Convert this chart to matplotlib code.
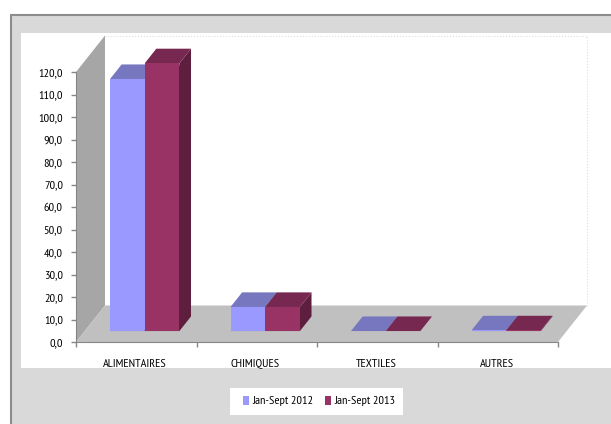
import matplotlib
matplotlib.use('Agg')
import matplotlib.pyplot as plt
from matplotlib import font_manager as fm
from matplotlib.patches import Polygon, Rectangle

categories = ['ALIMENTAIRES', 'CHIMIQUES', 'TEXTILES', 'AUTRES']
series_names = ['Jan-Sept 2012', 'Jan-Sept 2013']
vals_2012 = [112.0, 10.7, 0.0, 0.3]
vals_2013 = [119.0, 10.7, 0.0, 0.3]
yticks = [0, 10, 20, 30, 40, 50, 60, 70, 80, 90, 100, 110, 120]

# narrow face if the machine has one, Lato otherwise
installed = {f.name for f in fm.fontManager.ttflist}
narrow = [n for n in ['PT Sans Narrow', 'Archivo Narrow', 'Roboto Condensed'] if n in installed]
plt.rcParams['font.family'] = narrow + ['Lato', 'DejaVu Sans']
fs = 8.8 if narrow else 7

W, H = 611, 424
fig = plt.figure(figsize=(W/100, H/100), dpi=100, facecolor='white')

# background in pixels
bg = fig.add_axes([0, 0, 1, 1])
bg.set_xlim(0, W)
bg.set_ylim(H, 0)
bg.axis('off')
bg.add_patch(Rectangle((11, 15), 610, 420, fc='#D9D9D9', ec='#8C8C8C', lw=1.5))
bg.add_patch(Rectangle((21, 33), 600, 335, fc='white', ec='none'))
bg.add_patch(Rectangle((230, 388), 173, 27, fc='white', ec='none'))

# front plane of the 3D box: 0..4 categories, 0..120 values
x0, x1, y0, y1 = 76, 558, 342, 72
ax = fig.add_axes([x0/W, 1-y0/H, (x1-x0)/W, (y0-y1)/H])
ax.set_xlim(0, 4)
ax.set_ylim(0, 120)
ax.patch.set_alpha(0)
for s in ['top', 'right']:
    ax.spines[s].set_visible(False)
for s in ['left', 'bottom']:
    ax.spines[s].set_color('#868686')

ddx = 29/120.5   # depth shift, data units
ddy = 36.5/2.25

def pt(x, y, d):
    return (x + d*ddx, y + d*ddy)

def face(pts, color, z=2, ec='none'):
    ax.add_patch(Polygon(pts, closed=True, fc=color, ec=ec, lw=0.5, clip_on=False, zorder=z))

# walls
face([pt(0, 0, 0), pt(0, 0, 1), pt(0, 120, 1), pt(0, 120, 0)], '#A6A6A6', 1)
face([pt(0, 0, 0), pt(4, 0, 0), pt(4, 0, 1), pt(0, 0, 1)], '#C0C0C0', 1)
ax.plot([pt(0, 120, 1)[0], pt(4, 120, 1)[0], pt(4, 0, 1)[0]],
        [pt(0, 120, 1)[1], pt(4, 120, 1)[1], pt(4, 0, 1)[1]],
        color='#DDDDDD', lw=0.8, ls=':', clip_on=False, zorder=1)

colors = [('#9999FF', '#7777C0', '#5A5A99'), ('#993366', '#772850', '#5E1F3F')]
bw = 0.288
d0, d1 = 0.3, 0.7


def bar3d(x, v, cols, z):
    front, top, side = cols
    face([pt(x, 0, d0), pt(x+bw, 0, d0), pt(x+bw, 0, d1), pt(x+bw, v, d1), pt(x+bw, v, d0)], side, z)
    face([pt(x, v, d0), pt(x+bw, v, d0), pt(x+bw, v, d1), pt(x, v, d1)], top, z)
    face([pt(x, 0, d0), pt(x+bw, 0, d0), pt(x+bw, v, d0), pt(x, v, d0)], front, z+1)


for i in range(len(categories)):
    bar3d(i + 0.21, vals_2012[i], colors[0], 3)
    bar3d(i + 0.21 + bw, vals_2013[i], colors[1], 5)

ax.set_yticks(yticks)
ax.set_yticklabels([f'{v:.1f}'.replace('.', ',') for v in yticks])
ax.set_xticks(range(5))
ax.set_xticklabels([])
ax.tick_params(axis='both', color='#868686', length=3.5, width=1, labelsize=fs)
ax.tick_params(axis='y', pad=6)

for i, c in enumerate(categories):
    ax.text(i + 0.49, -0.082, c, fontsize=fs, ha='center', va='center', color='black',
            transform=ax.get_xaxis_transform(), clip_on=False)

# legend
for lx, name, col in [(243, series_names[0], colors[0][0]), (325, series_names[1], colors[1][0])]:
    bg.add_patch(Rectangle((lx, 396), 6, 9, fc=col, ec='none'))
    bg.text(lx+9.5, 401, name, fontsize=fs, va='center', color='black')

fig.savefig('out.png', dpi=100)
